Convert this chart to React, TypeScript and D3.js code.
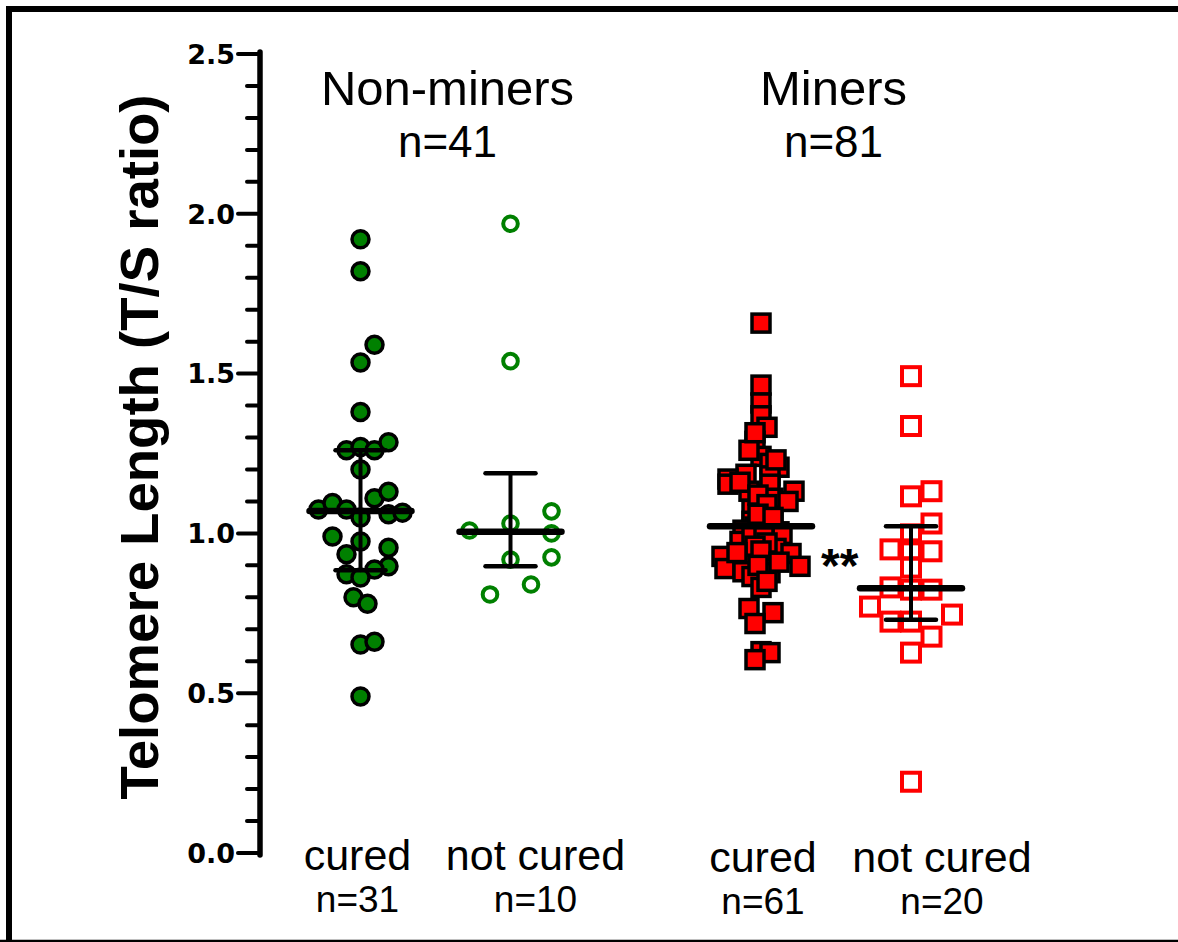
import React from "react";
import * as d3 from "d3";

// groups, subgroups and their counts
const groupNames = ["Non-miners", "Miners"];
const groupCounts = ["n=41", "n=81"];
const statusNames = ["cured", "not cured"];
const statusCounts = [["n=31", "n=10"], ["n=61", "n=20"]];

// telomere length (T/S ratio) per subject, with a beeswarm slot index
const nonMinerCured = [1.92, 1.82, 1.59, 1.535, 1.38, 1.26, 1.27, 1.26, 1.285, 1.2, 1.11, 1.13, 1.075, 1.095, 1.075, 1.05, 1.06, 1.065, 0.99, 0.975, 0.955, 0.935, 0.897, 0.887, 0.872, 0.862, 0.8, 0.78, 0.652, 0.661, 0.49];
const nonMinerCuredSlot = [0, 0, 1, 0, 0, -1, 0, 1, 2, 0, 1, 2, -3, -2, -1, 0, 2, 3, -2, 0, 2, -1, 2, 1, -1, 0, -0.5, 0.5, 0, 1, 0];

const nonMinerNotCured = [1.969, 1.539, 1.069, 1.031, 1.009, 1.0, 0.925, 0.918, 0.84, 0.809];
const nonMinerNotCuredSlot = [0, 0, 2, 0, -2, 2, 2, 0, 1, -1];

const minerCured = [1.658, 1.464, 1.408, 1.368, 1.332, 1.288, 1.241, 1.219, 1.207, 1.185, 1.17, 1.18, 1.154, 1.132, 1.154, 1.132, 1.11, 1.1, 1.075, 1.038, 1.038, 1.034, 1.02, 1.02, 1.01, 1.005, 0.997, 0.975, 0.953, 0.937, 0.928, 0.922, 0.897, 0.89, 0.88, 0.877, 0.865, 0.831, 0.765, 0.752, 0.718, 0.63, 0.627, 0.605, 1.26, 1.23, 1.16, 1.12, 1.09, 1.06, 1.05, 1.0, 0.99, 0.97, 0.96, 0.945, 0.94, 0.91, 0.9, 0.85, 1.315];
const minerCuredSlot = [0, 0, 0, 0, 1, -1, 0, 1.5, 3, -2.5, -5.5, 1.5, -5.5, -2, 1.5, 5.5, 2, 4.5, -1.5, -1.5, 0.5, 2, -1, 1, -3, 3, 3.5, -3.5, 2.5, 5, -6.5, -3, 6.5, -6, -3, 1.5, -1.5, 0, -2, 2, -1, 0, 1.5, -1, -2, 2.5, -3.5, -0.5, 1, -0.5, 2, -1.5, 0.5, 1, -1, 0, -4, 3, -0.5, 1, -1];

const minerNotCured = [1.492, 1.336, 1.132, 1.116, 1.031, 0.997, 0.95, 0.95, 0.944, 0.893, 0.831, 0.824, 0.824, 0.771, 0.724, 0.724, 0.746, 0.677, 0.627, 0.223];
const minerNotCuredSlot = [0, 0, 1, 0, 1, 0, -1, 0, 1, 0, -1, 0, 1, -2, -1, 0, 2, 1, 0, 0];

// mean and error bar ends (null = no whiskers drawn)
const means = [[1.07, 1.005], [1.022, 0.828]];
const lows = [[0.885, 0.897], [null, 0.73]];
const highs = [[1.26, 1.188], [null, 1.022]];

const yTicks = [0, 0.5, 1.0, 1.5, 2.0, 2.5];

const W = 1178;
const H = 942;
const font = "'Liberation Sans', Arial, sans-serif";
const GREEN = "#008000";
const RED = "#ff0000";

export default function App() {
  const y = d3.scaleLinear().domain([0, 2.5]).range([853, 54]);
  const xGroup = d3.scaleBand<string>().domain(groupNames).range([235.5, 1035.5]);
  const xStatus = d3.scalePoint<string>().domain(statusNames).range([-75, 75]);
  const cx = (g: number, s: number) =>
    (xGroup(groupNames[g]) as number) + xGroup.bandwidth() / 2 + (xStatus(statusNames[s]) as number) + (g === 1 ? 0.5 : 0);

  const minorTicks = d3.range(0, 26).filter(i => i % 5 !== 0).map(i => i / 10);

  const series = [
    { g: 0, s: 0, vals: nonMinerCured, slot: nonMinerCuredSlot, dodge: 14 },
    { g: 0, s: 1, vals: nonMinerNotCured, slot: nonMinerNotCuredSlot, dodge: 20.5 },
    { g: 1, s: 0, vals: minerCured, slot: minerCuredSlot, dodge: 6 },
    { g: 1, s: 1, vals: minerNotCured, slot: minerNotCuredSlot, dodge: 20.5 },
  ];

  // label centres relative to the point columns
  const labelShift = [[-3, 25], [2, 31]];
  const headShift = [12, -2];

  return (
    <svg width={W} height={H} style={{ position: "absolute", left: 0, top: 0, background: "#fff" }}>
      {/* frame */}
      <path d={`M${W},9 H9 V${H}`} fill="none" stroke="#000" strokeWidth={6} />
      <line x1={0} x2={W} y1={941} y2={941} stroke="#000" strokeWidth={2.5} />

      {/* y axis */}
      <line x1={260} x2={260} y1={y(2.5) - 2} y2={y(0) + 2} stroke="#000" strokeWidth={5.5} strokeLinecap="round" />
      {minorTicks.map(t => (
        <line key={t} x1={247} x2={260} y1={y(t)} y2={y(t)} stroke="#000" strokeWidth={4} strokeLinecap="round" />
      ))}
      {yTicks.map(t => (
        <line key={`M${t}`} x1={238} x2={260} y1={y(t)} y2={y(t)} stroke="#000" strokeWidth={4} strokeLinecap="round" />
      ))}
      {yTicks.map(t => (
        <text key={t} x={235} y={y(t)} dy="0.36em" textAnchor="end" fontFamily="'DejaVu Sans', sans-serif" fontWeight="bold" fontSize={27}>
          {t.toFixed(1)}
        </text>
      ))}
      <text transform={`translate(158,447) rotate(-90)`} textAnchor="middle" fontFamily={font} fontWeight="bold" fontSize={54} textLength={705} lengthAdjust="spacingAndGlyphs">
        Telomere Length (T/S ratio)
      </text>

      {/* points */}
      {series.map(({ g, s, vals, slot, dodge }) => (
        <g key={`${g}-${s}`}>
          {vals.map((v, i) => {
            const px = cx(g, s) + slot[i] * dodge;
            const py = y(v);
            if (g === 0 && s === 0)
              return <circle key={i} cx={px} cy={py} r={8.5} fill={GREEN} stroke="#000" strokeWidth={3.5} />;
            if (g === 0)
              return <circle key={i} cx={px} cy={py} r={7.3} fill="none" stroke={GREEN} strokeWidth={4} />;
            if (s === 0)
              return <rect key={i} x={px - 9} y={py - 9} width={18} height={18} fill={RED} stroke="#000" strokeWidth={3.5} />;
            return <rect key={i} x={px - 9} y={py - 9} width={18} height={18} fill="none" stroke={RED} strokeWidth={4} />;
          })}
        </g>
      ))}

      {/* mean and error bars */}
      {[0, 1].map(g =>
        [0, 1].map(s => {
          const c = cx(g, s);
          const lo = lows[g][s];
          const hi = highs[g][s];
          return (
            <g key={`e${g}${s}`} stroke="#000" strokeLinecap="round">
              {lo !== null && hi !== null && (
                <>
                  <line x1={c} x2={c} y1={y(hi)} y2={y(lo)} strokeWidth={4} />
                  <line x1={c - 25} x2={c + 25} y1={y(hi)} y2={y(hi)} strokeWidth={4.5} />
                  <line x1={c - 25} x2={c + 25} y1={y(lo)} y2={y(lo)} strokeWidth={4.5} />
                </>
              )}
              <line x1={c - 51} x2={c + 51} y1={y(means[g][s])} y2={y(means[g][s])} strokeWidth={6.5} />
            </g>
          );
        })
      )}

      <text x={821} y={582} fontFamily={font} fontWeight="bold" fontSize={48}>**</text>

      {/* group headings */}
      {groupNames.map((name, g) => {
        const c = (xGroup(name) as number) + xGroup.bandwidth() / 2 + headShift[g];
        return (
          <g key={name} fontFamily={font} textAnchor="middle">
            <text x={c} y={105} fontSize={49}>{name}</text>
            <text x={c} y={157} fontSize={44}>{groupCounts[g]}</text>
          </g>
        );
      })}

      {/* subgroup labels */}
      {[0, 1].map(g =>
        [0, 1].map(s => {
          const c = cx(g, s) + labelShift[g][s];
          return (
            <g key={`l${g}${s}`} fontFamily={font} textAnchor="middle">
              <text x={c} y={870 + g * 2} fontSize={43}>{statusNames[s]}</text>
              <text x={c} y={912 + g * 2} fontSize={37}>{statusCounts[g][s]}</text>
            </g>
          );
        })
      )}
    </svg>
  );
}
